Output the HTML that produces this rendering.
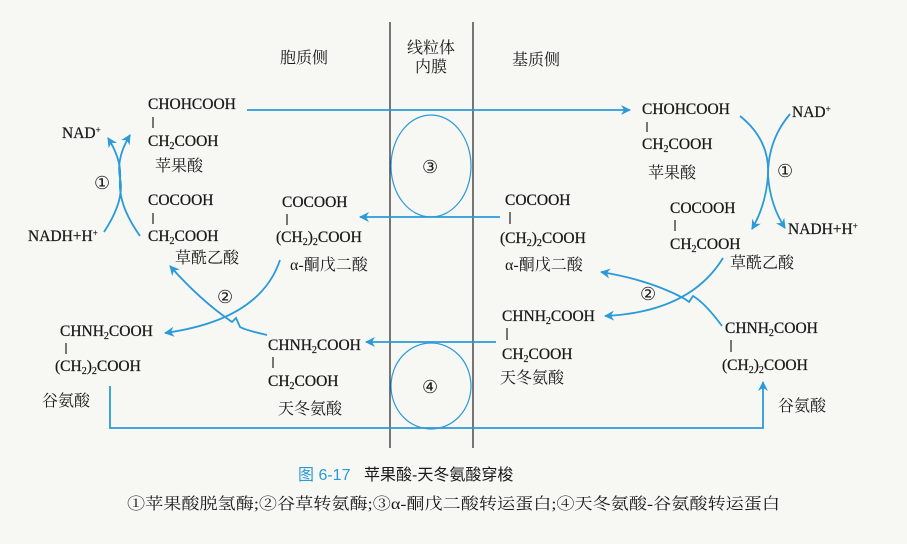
<!DOCTYPE html>
<html><head><meta charset="utf-8"><style>
html,body{margin:0;padding:0;background:#f7f7f4;}
svg{display:block;}
.f{font-family:"Liberation Serif","Noto Serif CJK SC",serif;font-size:15.5px;fill:#1a1a1a;stroke:#1a1a1a;stroke-width:0.25;}
.c{font-family:"Liberation Serif","Noto Serif CJK SC",serif;font-size:16px;fill:#1a1a1a;}
.n{font-family:"Liberation Serif","DejaVu Sans",serif;font-size:18px;fill:#1a1a1a;}
.b{stroke:#2a9ad8;stroke-width:1.8;fill:none;}
.k{stroke:#222;stroke-width:1.2;}
</style></head><body>
<svg width="907" height="544" viewBox="0 0 907 544" xmlns="http://www.w3.org/2000/svg">
<defs><marker id="a" viewBox="0 0 10 10" refX="9" refY="5" markerWidth="10" markerHeight="10" orient="auto" markerUnits="userSpaceOnUse"><path d="M0,0 L10,5 L0,10 L3,5 Z" fill="#2a9ad8"/></marker></defs>
<line class="k" x1="390" y1="22" x2="390" y2="448"/>
<line class="k" x1="473" y1="22" x2="473" y2="448"/>
<text class="c" x="280" y="63">胞质侧</text>
<text class="c" x="407" y="53">线粒体</text>
<text class="c" x="415" y="72">内膜</text>
<text class="c" x="512" y="65">基质侧</text>

<ellipse cx="431" cy="166" rx="40" ry="51" stroke="#2a9ad8" stroke-width="1.2" fill="none"/>
<ellipse cx="431" cy="386" rx="40" ry="43" stroke="#2a9ad8" stroke-width="1.2" fill="none"/>
<text class="n" x="422" y="173">③</text>
<text class="n" x="422" y="393">④</text>
<line class="b" x1="247" y1="110" x2="630" y2="110" marker-end="url(#a)"/>
<line class="b" x1="500" y1="217" x2="360" y2="217" marker-end="url(#a)"/>
<line class="b" x1="496" y1="342" x2="366" y2="342" marker-end="url(#a)"/>
<polyline class="b" points="110,386 110,428 763,428 763,382" marker-end="url(#a)"/>

<text class="f" x="148" y="109">CHOHCOOH</text>
<line class="k" x1="153" y1="117" x2="153" y2="128"/>
<text class="f" x="148" y="146">CH<tspan font-size="10" dy="3">2</tspan><tspan dy="-3">COOH</tspan></text>
<text class="c" x="155" y="171">苹果酸</text>
<text class="f" x="62" y="138">NAD<tspan font-size="9" dy="-5">+</tspan></text>
<text class="n" x="94" y="189">①</text>
<text class="f" x="28" y="241">NADH+H<tspan font-size="9" dy="-5">+</tspan></text>
<path class="b" d="M104,232 Q125,200 120,178 Q116,158 130,135" marker-end="url(#a)"/>
<path class="b" d="M140,236 Q118,205 120,180 Q122,160 108,138" marker-end="url(#a)"/>
<text class="f" x="148" y="205">COCOOH</text>
<line class="k" x1="153" y1="213" x2="153" y2="224"/>
<text class="f" x="148" y="241">CH<tspan font-size="10" dy="3">2</tspan><tspan dy="-3">COOH</tspan></text>
<text class="c" x="175" y="263">草酰乙酸</text>
<text class="f" x="282" y="207">COCOOH</text>
<line class="k" x1="287" y1="214" x2="287" y2="225"/>
<text class="f" x="276" y="242">(CH<tspan font-size="10" dy="3">2</tspan><tspan dy="-3">)</tspan><tspan font-size="10" dy="3">2</tspan><tspan dy="-3">COOH</tspan></text>
<text class="c" x="290" y="270">α-酮戊二酸</text>
<text class="n" x="217" y="303">②</text>
<path class="b" d="M280,260 Q260,320 165,333" marker-end="url(#a)"/>
<path class="b" d="M267,335 Q245,330 240,327 L236,318 L232,322 Q200,300 170,266" marker-end="url(#a)"/>
<text class="f" x="60" y="336">CHNH<tspan font-size="10" dy="3">2</tspan><tspan dy="-3">COOH</tspan></text>
<line class="k" x1="66" y1="343" x2="66" y2="354"/>
<text class="f" x="55" y="371">(CH<tspan font-size="10" dy="3">2</tspan><tspan dy="-3">)</tspan><tspan font-size="10" dy="3">2</tspan><tspan dy="-3">COOH</tspan></text>
<text class="c" x="42" y="406">谷氨酸</text>
<text class="f" x="268" y="350">CHNH<tspan font-size="10" dy="3">2</tspan><tspan dy="-3">COOH</tspan></text>
<line class="k" x1="273" y1="357" x2="273" y2="368"/>
<text class="f" x="268" y="386">CH<tspan font-size="10" dy="3">2</tspan><tspan dy="-3">COOH</tspan></text>
<text class="c" x="278" y="414">天冬氨酸</text>

<text class="f" x="642" y="114">CHOHCOOH</text>
<line class="k" x1="647" y1="122" x2="647" y2="132"/>
<text class="f" x="642" y="149">CH<tspan font-size="10" dy="3">2</tspan><tspan dy="-3">COOH</tspan></text>
<text class="c" x="648" y="178">苹果酸</text>
<text class="f" x="792" y="117">NAD<tspan font-size="9" dy="-5">+</tspan></text>
<text class="n" x="777" y="177">①</text>
<path class="b" d="M740,116 Q770,140 768,175 Q766,205 752,229" marker-end="url(#a)"/>
<path class="b" d="M790,114 Q768,140 768,175 Q770,205 785,228" marker-end="url(#a)"/>
<text class="f" x="788" y="234">NADH+H<tspan font-size="9" dy="-5">+</tspan></text>
<text class="f" x="670" y="213">COCOOH</text>
<line class="k" x1="675" y1="220" x2="675" y2="231"/>
<text class="f" x="670" y="249">CH<tspan font-size="10" dy="3">2</tspan><tspan dy="-3">COOH</tspan></text>
<text class="c" x="730" y="268">草酰乙酸</text>
<text class="f" x="505" y="205">COCOOH</text>
<line class="k" x1="510" y1="212" x2="510" y2="224"/>
<text class="f" x="500" y="243">(CH<tspan font-size="10" dy="3">2</tspan><tspan dy="-3">)</tspan><tspan font-size="10" dy="3">2</tspan><tspan dy="-3">COOH</tspan></text>
<text class="c" x="505" y="270">α-酮戊二酸</text>
<text class="n" x="640" y="300">②</text>
<path class="b" d="M723,258 Q690,312 605,316" marker-end="url(#a)"/>
<path class="b" d="M722,326 Q705,303 693,296 L689,302 L685,299 Q650,280 601,272" marker-end="url(#a)"/>
<text class="f" x="502" y="321">CHNH<tspan font-size="10" dy="3">2</tspan><tspan dy="-3">COOH</tspan></text>
<line class="k" x1="507" y1="328" x2="507" y2="340"/>
<text class="f" x="502" y="359">CH<tspan font-size="10" dy="3">2</tspan><tspan dy="-3">COOH</tspan></text>
<text class="c" x="500" y="383">天冬氨酸</text>
<text class="f" x="725" y="333">CHNH<tspan font-size="10" dy="3">2</tspan><tspan dy="-3">COOH</tspan></text>
<line class="k" x1="731" y1="340" x2="731" y2="352"/>
<text class="f" x="722" y="370">(CH<tspan font-size="10" dy="3">2</tspan><tspan dy="-3">)</tspan><tspan font-size="10" dy="3">2</tspan><tspan dy="-3">COOH</tspan></text>
<text class="c" x="778" y="411">谷氨酸</text>

<text x="298" y="480" font-family="Liberation Sans,sans-serif" font-size="16" fill="#2a9ad8">图 6-17</text>
<text x="364" y="480" font-family="Liberation Sans,'Noto Sans CJK SC',sans-serif" font-size="16" fill="#1a1a1a">苹果酸-天冬氨酸穿梭</text>
<text x="127" y="509" class="c" font-size="17" textLength="653" lengthAdjust="spacingAndGlyphs">①苹果酸脱氢酶;②谷草转氨酶;③α-酮戊二酸转运蛋白;④天冬氨酸-谷氨酸转运蛋白</text>
</svg>
</body></html>
